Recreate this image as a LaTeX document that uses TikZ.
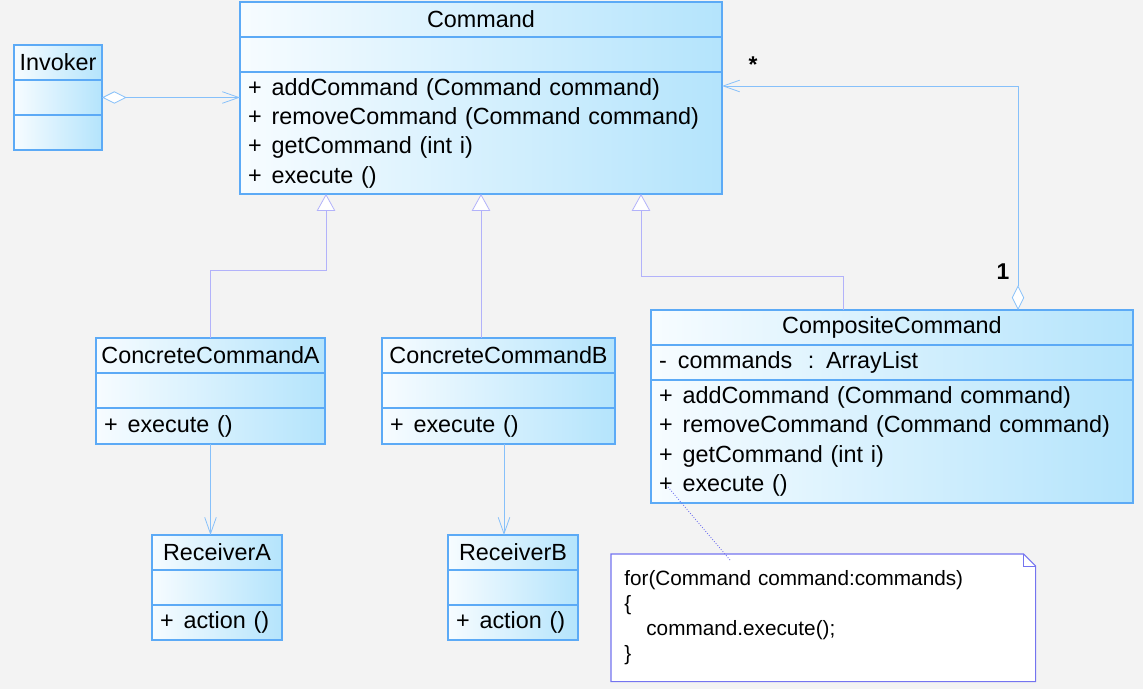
\documentclass[tikz,border=0pt]{standalone}
\usepackage{fontspec}
\setmainfont{Liberation Sans}
\usepackage{xcolor}
\usetikzlibrary{arrows.meta,positioning,calc}

\definecolor{bgc}{HTML}{F3F3F3}
\definecolor{clslo}{HTML}{F7FCFF}
\definecolor{clshi}{HTML}{B4E4FC}
\definecolor{clsline}{HTML}{5CAAF6}
\definecolor{genline}{HTML}{B2B2FA}
\definecolor{asline}{HTML}{86C0FA}
\definecolor{noteline}{HTML}{7474F0}

\newcommand{\pub}[1]{\makebox[13.4pt][l]{+}#1}
\newcommand{\priv}[1]{\makebox[10.8pt][l]{-}#1}

\begin{document}
\begin{tikzpicture}[
    cls/.style={draw=clsline, line width=0.7pt, left color=clslo, right color=clshi,
        minimum height=0.70cm, inner sep=0pt, outer sep=0pt,
        font=\fontsize{13.3}{16.7}\selectfont},
    ops/.style={cls, align=left, inner xsep=0.16cm},
    gen/.style={draw=genline, line width=0.45pt, -{Triangle[length=9.6pt, width=10.5pt, fill=white]}},
    assoc/.style={draw=asline, line width=0.45pt, -{Straight Barb[length=9.4pt, width=6.6pt]}},
    aggr/.style={draw=asline, line width=0.45pt, {Diamond[length=14pt, width=7pt, fill=white]}-{Straight Barb[length=9.4pt, width=6.6pt]}},
    mult/.style={font=\fontsize{13}{15}\selectfont\bfseries},
]
    \useasboundingbox (0,0) rectangle (22.86,-13.78);
    \fill[bgc] (0,0) rectangle (22.86,-13.78);

    % Command
    \node[cls, anchor=north west, minimum width=9.64cm] (cmd) at (4.80,-0.04) {Command};
    \node[cls, minimum width=9.64cm, below=0pt of cmd] (cmd-a) {};
    \node[ops, text width=9.32cm, minimum height=2.44cm, below=0pt of cmd-a] (cmd-o)
        {\pub{addCommand (Command command)}\\\pub{removeCommand (Command command)}\\
         \pub{getCommand (int i)}\\\pub{execute ()}};

    % Invoker
    \node[cls, anchor=north west, minimum width=1.76cm] (inv) at (0.28,-0.90) {Invoker};
    \node[cls, minimum width=1.76cm, below=0pt of inv] (inv-a) {};
    \node[cls, minimum width=1.76cm, below=0pt of inv-a] (inv-o) {};

    % Concrete commands
    \node[cls, anchor=north west, minimum width=4.58cm] (cca) at (1.92,-6.76) {ConcreteCommandA};
    \node[cls, minimum width=4.58cm, below=0pt of cca] (cca-a) {};
    \node[ops, text width=4.26cm, minimum height=0.72cm, below=0pt of cca-a] (cca-o) {\pub{execute ()}};

    \node[cls, anchor=north west, minimum width=4.66cm] (ccb) at (7.64,-6.76) {ConcreteCommandB};
    \node[cls, minimum width=4.66cm, below=0pt of ccb] (ccb-a) {};
    \node[ops, text width=4.34cm, minimum height=0.72cm, below=0pt of ccb-a] (ccb-o) {\pub{execute ()}};

    % CompositeCommand
    \node[cls, anchor=north west, minimum width=9.64cm] (cmp) at (13.02,-6.20) {CompositeCommand};
    \node[ops, text width=9.32cm, below=0pt of cmp] (cmp-a) {\priv{commands\ \ : ArrayList}};
    \node[ops, text width=9.32cm, minimum height=2.46cm, below=0pt of cmp-a] (cmp-o)
        {\pub{addCommand (Command command)}\\\pub{removeCommand (Command command)}\\
         \pub{getCommand (int i)}\\\pub{execute ()}};

    % Receivers
    \node[cls, anchor=north west, minimum width=2.60cm] (reca) at (3.04,-10.70) {ReceiverA};
    \node[cls, minimum width=2.60cm, below=0pt of reca] (reca-a) {};
    \node[ops, text width=2.28cm, below=0pt of reca-a] (reca-o) {\pub{action ()}};

    \node[cls, anchor=north west, minimum width=2.60cm] (recb) at (8.96,-10.70) {ReceiverB};
    \node[cls, minimum width=2.60cm, below=0pt of recb] (recb-a) {};
    \node[ops, text width=2.28cm, below=0pt of recb-a] (recb-o) {\pub{action ()}};

    % Note
    \node[fill=white, anchor=north west, minimum width=8.48cm, minimum height=2.54cm,
        inner xsep=0.26cm, inner ysep=0pt, text width=7.96cm, align=left,
        font=\fontsize{11.8}{14.2}\selectfont] (note) at (12.22,-11.08)
        {for(Command command:commands)\\\{\\\hspace*{0.44cm}command.execute();\\\}};
    \fill[bgc] ($(note.north east)+(-0.24,0)$) -- (note.north east) -- ($(note.north east)+(0,-0.24)$) -- cycle;
    \draw[noteline, line width=0.6pt] (note.north west) -- ($(note.north east)+(-0.24,0)$)
        -- ($(note.north east)+(0,-0.24)$) -- (note.south east) -- (note.south west) -- cycle;
    \draw[noteline, line width=0.4pt] ($(note.north east)+(-0.24,0)$) |- ($(note.north east)+(0,-0.24)$);

    % Bend points
    \coordinate (ga) at (6.52,-5.40);
    \coordinate (gb) at ($(ccb.north)+(-0.35,0)$);
    \coordinate (gc) at ($(cmp.north)+(-0.98,0)$);
    \coordinate (gc2) at (12.82,-5.52);
    \coordinate (ag) at ($(cmp.north)+(2.52,0)$);
    \coordinate (ae) at ($(cmd-o.north east)+(0,-0.28)$);
    \coordinate (rb) at ($(ccb-o.south)+(0.11,0)$);
    \coordinate (pl) at (13.36,-9.74);

    % Connectors
    \draw[aggr] (inv-a.east) -- (inv-a.east -| cmd-o.west);
    \draw[aggr] (ag) |- (ae);
    \draw[gen] (cca.north) |- (ga) -- (ga |- cmd-o.south);
    \draw[gen] (gb) -- (gb |- cmd-o.south);
    \draw[gen] (gc) |- (gc2) -- (gc2 |- cmd-o.south);
    \draw[assoc] (cca-o.south) -- (cca-o.south |- reca.north);
    \draw[assoc] (rb) -- (rb |- recb.north);
    \draw[noteline, line width=0.5pt, densely dotted] (pl) -- ($(note.north west)+(2.38,-0.12)$);

    % Multiplicities
    \node[mult] (m-many) at (15.06,-1.30) {*};
    \node[mult] (m-one) at (20.06,-5.44) {1};
\end{tikzpicture}
\end{document}
